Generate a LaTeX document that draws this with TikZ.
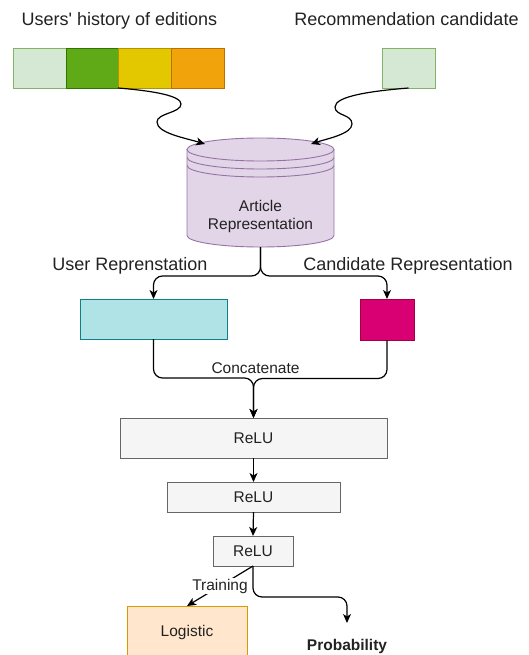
\documentclass[tikz,border=0pt]{standalone}
\usepackage{fontspec}
\setmainfont{Liberation Sans}[Ligatures=TeXOff]
\usetikzlibrary{arrows.meta,calc}
\definecolor{lgF}{HTML}{D5E8D4}\definecolor{lgS}{HTML}{82B366}
\definecolor{gF}{HTML}{60A917}\definecolor{gS}{HTML}{2D7600}
\definecolor{yF}{HTML}{E3C800}\definecolor{yS}{HTML}{B09500}
\definecolor{oF}{HTML}{F0A30A}\definecolor{oS}{HTML}{BD7000}
\definecolor{pF}{HTML}{E1D5E7}\definecolor{pS}{HTML}{9673A6}
\definecolor{cF}{HTML}{B0E3E6}\definecolor{cS}{HTML}{0E8088}
\definecolor{mF}{HTML}{D80073}\definecolor{mS}{HTML}{A50040}
\definecolor{grF}{HTML}{F5F5F5}\definecolor{grS}{HTML}{666666}
\definecolor{lF}{HTML}{FFE6CC}\definecolor{lS}{HTML}{D79B00}
\definecolor{txt}{HTML}{222222}
\begin{document}
\begin{tikzpicture}[x=1pt,y=-1pt,
  box/.style={draw, line width=0.9pt, inner sep=0pt, outer sep=0pt, text=txt},
  lbl/.style={font=\fontsize{18}{21}\selectfont, text=txt, inner sep=0pt, anchor=base},
  small/.style={font=\fontsize{15.5}{18}\selectfont, text=txt},
  arr/.style={-{Stealth[length=9pt,width=8pt,inset=2.5pt]}, line width=1.2pt, draw=black},
]
\useasboundingbox (0,0) rectangle (529,655);
\clip (0,0) rectangle (529,655);

% top labels
\node[lbl] (lhist) at (119.5,26) {Users' history of editions};
\node[lbl] (lcand) at (406.5,26) {Recommendation candidate};

% history strip
\node[box, fill=lgF, draw=lgS, minimum width=53, minimum height=40] (h1) at (39.5,68) {};
\node[box, fill=gF, draw=gS, minimum width=52, minimum height=40] (h2) at (92,68) {};
\node[box, fill=yF, draw=yS, minimum width=53, minimum height=40] (h3) at (144.5,68) {};
\node[box, fill=oF, draw=oS, minimum width=53, minimum height=40] (h4) at (197.5,68) {};
\node[box, fill=lgF, draw=lgS, minimum width=53, minimum height=40] (cand) at (408.5,68) {};

% cylinder
\node[minimum width=147, minimum height=109, inner sep=0pt, outer sep=0pt] (cyl) at (260.5,192.5) {};
\fill[pF] (187,149.5) -- (187,235.5) arc[start angle=180, end angle=0, x radius=73.5, y radius=11.5]
   -- (334,149.5) arc[start angle=0, end angle=-180, x radius=73.5, y radius=11.5] -- cycle;
\draw[pS, line width=0.9pt] (187,149.5) -- (187,235.5) arc[start angle=180, end angle=0, x radius=73.5, y radius=11.5] -- (334,149.5);
\draw[pS, line width=0.9pt] (260.5,149.5) ellipse[x radius=73.5, y radius=11.5];
\draw[pS, line width=0.9pt] (187,157.5) arc[start angle=180, end angle=0, x radius=73.5, y radius=11.5];
\draw[pS, line width=0.9pt] (187,165.5) arc[start angle=180, end angle=0, x radius=73.5, y radius=11.5];
\node[small, align=center] (cyltxt) at (260.5,216) {Article\\Representation};
\coordinate (cylL) at (205,144);
\coordinate (cylR) at (311,144);

% curvy arrows
\draw[arr] (h2.south east) .. controls (155,91) and (181,96) .. (181,104)
   .. controls (181,113) and (157,113) .. (157,122)
   .. controls (157,133) and (185,138) .. (cylL);
\draw[arr] (cand.south) .. controls (372,91) and (335,96) .. (335,107)
   .. controls (335,116) and (352,114) .. (352,124)
   .. controls (352,134) and (326,139) .. (cylR);

% representation labels
\node[lbl] (luser) at (130,270) {User Reprenstation};
\node[lbl] (lcandrep) at (408,270) {Candidate Representation};

% representation boxes
\node[box, fill=cF, draw=cS, minimum width=147, minimum height=40] (cyan) at (153.5,319) {};
\node[box, fill=mF, draw=mS, minimum width=54, minimum height=41] (mag) at (387,319.5) {};

\draw[arr, rounded corners=9pt] (cyl.south) -- ++(0,29) -| (cyan.north);
\draw[arr, rounded corners=9pt] (cyl.south) -- ++(0,29) -| (mag.north);

% ReLU stack
\node[box, fill=grF, draw=grS, minimum width=267, minimum height=40, small] (r1) at (253.5,438) {ReLU};
\node[box, fill=grF, draw=grS, minimum width=173, minimum height=30, small] (r2) at (253.5,497) {ReLU};
\node[box, fill=grF, draw=grS, minimum width=80, minimum height=30, small] (r3) at (253,551) {ReLU};

\draw[arr, rounded corners=9pt] (cyan.south) -- ++(0,39) -| (r1.north);
\draw[arr, rounded corners=9pt] (mag.south) -- ++(0,38.5) -| (r1.north);
\node[small, inner sep=0pt, anchor=base] (concat) at (255.5,373) {Concatenate};

\draw[arr] (r1.south) -- (r2.north);
\draw[arr] (r2.south) -- (r3.north);

% outputs
\node[box, fill=lF, draw=lS, minimum width=120, minimum height=70, small, text depth=0pt] (logi) at (187,641) {};
\node[small] (logitxt) at (187,632) {Logistic};
\node[small, font=\fontsize{15.5}{18}\selectfont\bfseries] (prob) at (347,646) {Probability};
\coordinate (probtip) at (347,623);

\draw[arr] (r3.south) -- (logi.north) node[midway, fill=white, inner sep=1pt, small] (train) {Training};
\draw[arr, rounded corners=9pt] (r3.south) -- ++(0,31) -| (probtip);
\end{tikzpicture}
\end{document}
